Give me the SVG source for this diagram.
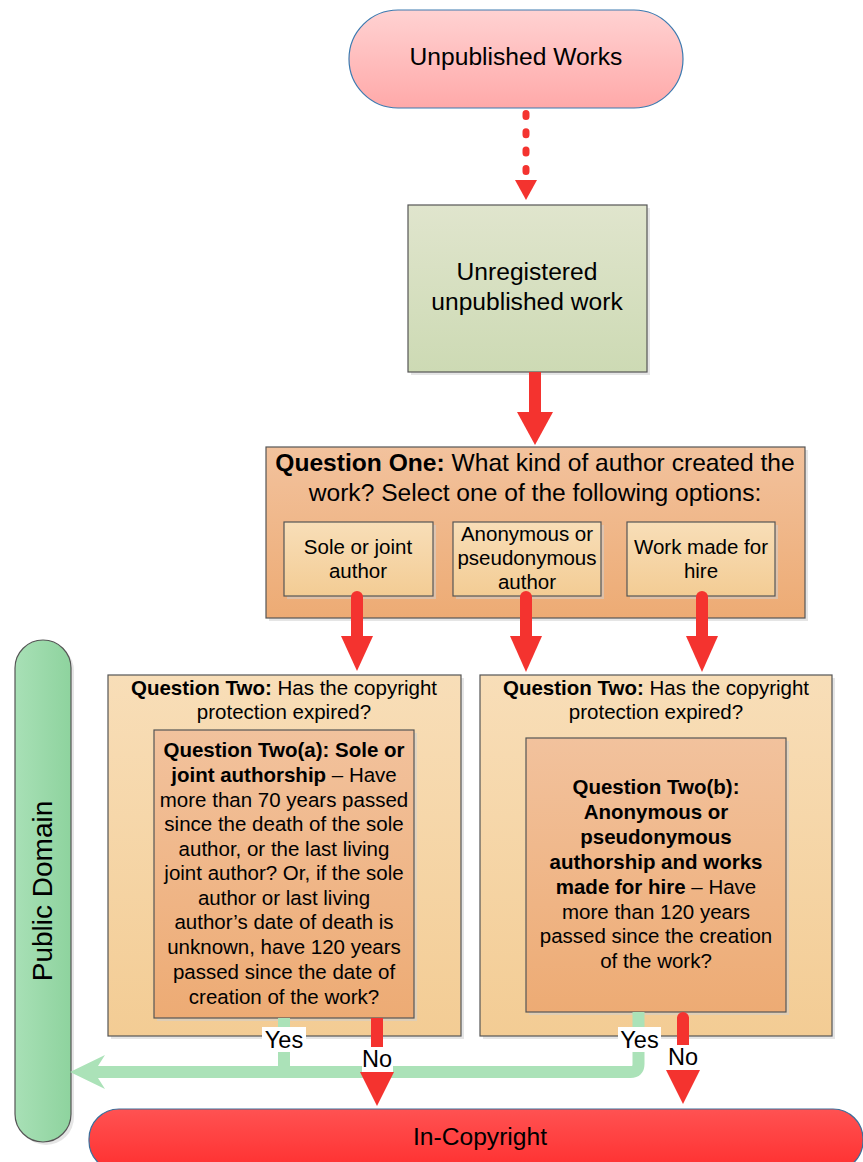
<svg xmlns="http://www.w3.org/2000/svg" width="863" height="1162" viewBox="0 0 863 1162">
<defs>
<linearGradient id="gPink" x1="0" y1="0" x2="0" y2="1"><stop offset="0" stop-color="#ffd2d2"/><stop offset="1" stop-color="#ffa9a9"/></linearGradient>
<linearGradient id="gOlive" x1="0" y1="0" x2="0" y2="1"><stop offset="0" stop-color="#e0e5cd"/><stop offset="1" stop-color="#cddab4"/></linearGradient>
<linearGradient id="gOrange" x1="0" y1="0" x2="0" y2="1"><stop offset="0" stop-color="#f2c29d"/><stop offset="1" stop-color="#edab74"/></linearGradient>
<linearGradient id="gPeach" x1="0" y1="0" x2="0" y2="1"><stop offset="0" stop-color="#f8deb8"/><stop offset="1" stop-color="#f3cc94"/></linearGradient>
<linearGradient id="gGreen" x1="0" y1="0" x2="1" y2="0"><stop offset="0" stop-color="#a8e0b6"/><stop offset="1" stop-color="#8ed39e"/></linearGradient>
<linearGradient id="gRed" x1="0" y1="0" x2="0" y2="1"><stop offset="0" stop-color="#ff5252"/><stop offset="1" stop-color="#ff2f2f"/></linearGradient>
</defs>
<style>
text{font-family:"Liberation Sans",Arial,sans-serif;fill:#000;}
.shadow{fill:#cfcfcf;opacity:0.55;}
.box{stroke:#555;stroke-width:1.2;}
.b{font-weight:bold;}
.red{fill:#f4332f;}
.redline{stroke:#f4332f;stroke-width:12;fill:none;}
.green{stroke:#abe2b8;stroke-width:12;fill:none;}
.lbl{fill:#fff;}
.t24{font-size:24.6px;}
.t20{font-size:20.5px;}
</style>

<g id="unpublished-works">
<rect x="349" y="10" width="334" height="98" rx="49" fill="url(#gPink)" stroke="#3c7ab0" stroke-width="1.2"/>
<text class="t24" x="516" y="65" text-anchor="middle">Unpublished Works</text>
</g>

<g id="unregistered">
<rect class="shadow" x="411" y="208" width="239" height="167"/>
<rect class="box" x="408" y="205" width="239" height="167" fill="url(#gOlive)"/>
<text class="t24" x="527" y="280" text-anchor="middle">Unregistered</text>
<text class="t24" x="527" y="310" text-anchor="middle">unpublished work</text>
</g>

<g id="question-one">
<rect class="shadow" x="269" y="450" width="539" height="171"/>
<rect class="box" x="266" y="447" width="539" height="171" fill="url(#gOrange)"/>
<text class="t24" x="535" y="471" text-anchor="middle"><tspan class="b">Question One:</tspan> What kind of author created the</text>
<text class="t24" x="535" y="501" text-anchor="middle">work? Select one of the following options:</text>
</g>

<g id="opt-sole">
<rect class="shadow" x="287" y="525" width="149" height="74"/>
<rect class="box" x="284" y="522" width="149" height="74" fill="url(#gPeach)"/>
<text class="t20" x="358" y="554" text-anchor="middle">Sole or joint</text>
<text class="t20" x="358" y="578" text-anchor="middle">author</text>
</g>

<g id="opt-anon">
<rect class="shadow" x="456" y="525" width="148" height="74"/>
<rect class="box" x="453" y="522" width="148" height="74" fill="url(#gPeach)"/>
<text class="t20" x="527" y="541" text-anchor="middle">Anonymous or</text>
<text class="t20" x="527" y="565" text-anchor="middle">pseudonymous</text>
<text class="t20" x="527" y="589" text-anchor="middle">author</text>
</g>

<g id="opt-hire">
<rect class="shadow" x="630" y="525" width="148" height="74"/>
<rect class="box" x="627" y="522" width="148" height="74" fill="url(#gPeach)"/>
<text class="t20" x="701" y="554" text-anchor="middle">Work made for</text>
<text class="t20" x="701" y="578" text-anchor="middle">hire</text>
</g>

<g id="question-two-a">
<rect class="shadow" x="111" y="678" width="353" height="361"/>
<rect class="box" x="108" y="675" width="353" height="361" fill="url(#gPeach)"/>
<text class="t20" x="284" y="695" text-anchor="middle"><tspan class="b">Question Two:</tspan> Has the copyright</text>
<text class="t20" x="284" y="719" text-anchor="middle">protection expired?</text>
<rect class="shadow" x="157" y="733" width="260" height="288"/>
<rect class="box" x="154" y="730" width="260" height="288" fill="url(#gOrange)"/>
<g class="t20" text-anchor="middle">
<text x="284" y="757" class="b">Question Two(a): Sole or</text>
<text x="284" y="782"><tspan class="b">joint authorship</tspan> – Have</text>
<text x="284" y="807">more than 70 years passed</text>
<text x="284" y="831">since the death of the sole</text>
<text x="284" y="856">author, or the last living</text>
<text x="284" y="880">joint author? Or, if the sole</text>
<text x="284" y="905">author or last living</text>
<text x="284" y="929">author’s date of death is</text>
<text x="284" y="954">unknown, have 120 years</text>
<text x="284" y="979">passed since the date of</text>
<text x="284" y="1004">creation of the work?</text>
</g>
</g>

<g id="question-two-b">
<rect class="shadow" x="483" y="678" width="352" height="361"/>
<rect class="box" x="480" y="675" width="352" height="361" fill="url(#gPeach)"/>
<text class="t20" x="656" y="695" text-anchor="middle"><tspan class="b">Question Two:</tspan> Has the copyright</text>
<text class="t20" x="656" y="719" text-anchor="middle">protection expired?</text>
<rect class="shadow" x="529" y="741" width="260" height="274"/>
<rect class="box" x="526" y="738" width="260" height="274" fill="url(#gOrange)"/>
<g class="t20" text-anchor="middle">
<text x="656" y="794" class="b">Question Two(b):</text>
<text x="656" y="819" class="b">Anonymous or</text>
<text x="656" y="844" class="b">pseudonymous</text>
<text x="656" y="869" class="b">authorship and works</text>
<text x="656" y="894"><tspan class="b">made for hire</tspan> – Have</text>
<text x="656" y="919">more than 120 years</text>
<text x="656" y="943">passed since the creation</text>
<text x="656" y="968">of the work?</text>
</g>
</g>

<g id="public-domain">
<rect class="shadow" x="18" y="643" width="56" height="502" rx="28"/>
<rect class="box" x="15" y="640" width="56" height="502" rx="28" fill="url(#gGreen)"/>
<text x="52" y="891" font-size="28" text-anchor="middle" transform="rotate(-90 52 891)">Public Domain</text>
</g>

<g id="in-copyright">
<rect x="89" y="1109" width="774" height="62" rx="30" fill="url(#gRed)" stroke="#3c6e9a" stroke-width="1.2"/>
<text class="t24" x="480" y="1145" text-anchor="middle">In-Copyright</text>
</g>

<g id="connectors">
<line x1="526" y1="113.5" x2="526" y2="176" stroke="#f4332f" stroke-width="7" stroke-linecap="round" stroke-dasharray="3 15.3"/>
<polygon class="red" points="515,180 537,180 526,200"/>
<line class="redline" x1="535" y1="372" x2="535" y2="414"/>
<polygon class="red" points="517,412 553,412 535,445"/>
<line class="redline" x1="357" y1="597" x2="357" y2="638" stroke-linecap="round"/>
<polygon class="red" points="341,636 373,636 357,671"/>
<line class="redline" x1="526" y1="597" x2="526" y2="638" stroke-linecap="round"/>
<polygon class="red" points="510,636 542,636 526,672"/>
<line class="redline" x1="702" y1="597" x2="702" y2="638" stroke-linecap="round"/>
<polygon class="red" points="686,636 718,636 702,672"/>
<path class="green" d="M638.5 1012 V1064 Q638.5 1072 630.5 1072 H98"/>
<line class="green" x1="284" y1="1018" x2="284" y2="1072"/>
<polygon fill="#abe2b8" points="70,1072 105,1055 98,1066 98,1078 105,1089"/>
<rect class="lbl" x="262" y="1027" width="44" height="25"/>
<text x="284" y="1048" font-size="23.5" text-anchor="middle">Yes</text>
<rect class="lbl" x="618" y="1027" width="43" height="25"/>
<text x="639.5" y="1048" font-size="23.5" text-anchor="middle">Yes</text>
<line class="redline" x1="377" y1="1018" x2="377" y2="1074"/>
<rect class="lbl" x="362" y="1047" width="31" height="25"/>
<text x="377" y="1067" font-size="23.5" text-anchor="middle">No</text>
<polygon class="red" points="360,1072 394,1072 377,1106"/>
<line class="redline" x1="683" y1="1018" x2="683" y2="1072" stroke-linecap="round"/>
<rect class="lbl" x="668" y="1045" width="31" height="25"/>
<text x="683" y="1065" font-size="23.5" text-anchor="middle">No</text>
<polygon class="red" points="666,1070 700,1070 683,1104"/>
</g>
</svg>
